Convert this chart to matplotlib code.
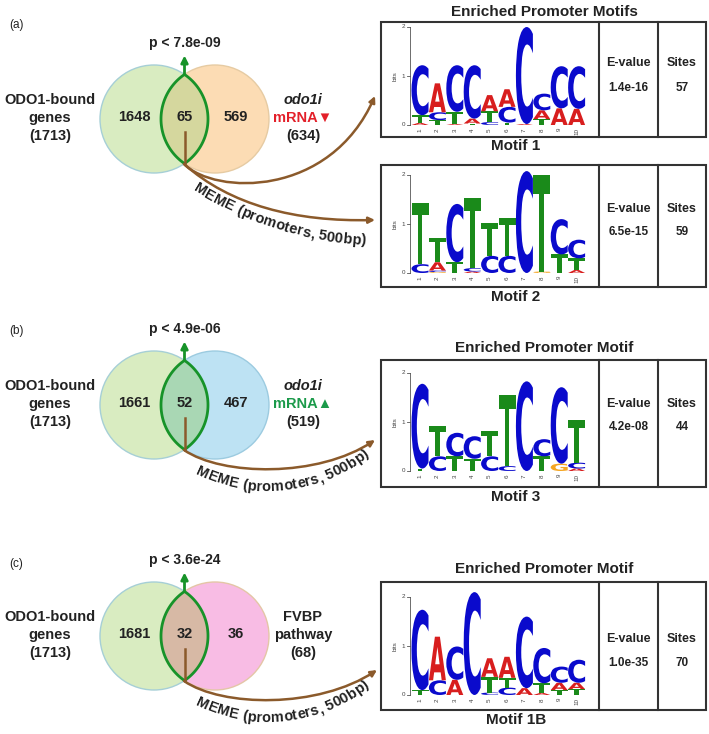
import numpy as np
import matplotlib
matplotlib.use('Agg')
import matplotlib.pyplot as plt
from matplotlib.patches import Circle, Polygon, PathPatch, FancyArrowPatch, Rectangle
from matplotlib.path import Path
from matplotlib.textpath import TextPath
from matplotlib.transforms import Affine2D
from matplotlib.font_manager import FontProperties, findfont, get_font

plt.rcParams['font.family'] = ['Liberation Sans', 'DejaVu Sans']

# venn counts
left_only = [1648, 1661, 1681]
overlap = [65, 52, 32]
right_only = [569, 467, 36]
left_total = [1713, 1713, 1713]
right_total = [634, 519, 68]
p_values = ['7.8e-09', '4.9e-06', '3.6e-24']
panel_tags = ['(a)', '(b)', '(c)']

# motif tables
motif_names = ['Motif 1', 'Motif 2', 'Motif 3', 'Motif 1B']
evalues = ['1.4e-16', '6.5e-15', '4.2e-08', '1.0e-35']
sites = [57, 59, 44, 70]
titles = ['Enriched Promoter Motifs', 'Enriched Promoter Motif', 'Enriched Promoter Motif']

# logo columns, letters bottom -> top, heights in bits
motif1 = [
    [('A', 0.04), ('T', 0.16), ('C', 1.02)],
    [('T', 0.10), ('C', 0.16), ('A', 0.59)],
    [('A', 0.02), ('T', 0.25), ('C', 0.95)],
    [('T', 0.03), ('A', 0.10), ('C', 1.09)],
    [('C', 0.06), ('T', 0.22), ('A', 0.33)],
    [('T', 0.05), ('C', 0.32), ('A', 0.36)],
    [('A', 0.02), ('C', 1.98)],
    [('T', 0.12), ('A', 0.18), ('C', 0.34)],
    [('A', 0.34), ('C', 0.86)],
    [('A', 0.33), ('C', 0.87)],
]
motif2 = [
    [('C', 0.18), ('T', 1.24)],
    [('G', 0.02), ('C', 0.03), ('A', 0.17), ('T', 0.50)],
    [('T', 0.22), ('C', 1.19)],
    [('A', 0.03), ('C', 0.07), ('T', 1.44)],
    [('C', 0.35), ('T', 0.68)],
    [('C', 0.35), ('T', 0.78)],
    [('C', 2.08)],
    [('G', 0.03), ('T', 1.97)],
    [('T', 0.38), ('C', 0.72)],
    [('A', 0.06), ('T', 0.24), ('C', 0.38)],
]
motif3 = [
    [('T', 0.05), ('C', 1.73)],
    [('C', 0.30), ('T', 0.61)],
    [('T', 0.30), ('C', 0.48)],
    [('T', 0.25), ('C', 0.46)],
    [('C', 0.30), ('T', 0.51)],
    [('C', 0.10), ('T', 1.46)],
    [('C', 1.83)],
    [('T', 0.30), ('C', 0.35)],
    [('G', 0.15), ('C', 1.56)],
    [('A', 0.05), ('C', 0.12), ('T', 0.88)],
]
motif1b = [
    [('T', 0.10), ('C', 1.64)],
    [('C', 0.30), ('A', 0.89)],
    [('A', 0.31), ('C', 0.68)],
    [('C', 2.10)],
    [('C', 0.05), ('T', 0.32), ('A', 0.38)],
    [('C', 0.15), ('T', 0.20), ('A', 0.43)],
    [('A', 0.14), ('C', 1.46)],
    [('A', 0.04), ('T', 0.20), ('C', 0.72)],
    [('T', 0.10), ('A', 0.15), ('C', 0.33)],
    [('T', 0.12), ('A', 0.13), ('C', 0.47)],
]
motifs = [motif1, motif2, motif3, motif1b]

base_col = {'A': '#d81e1e', 'C': '#0a0acc', 'G': '#f5a623', 'T': '#1a8a1a'}
txt = '#222222'
green = '#179329'
brown = '#8b5a2b'

fig = plt.figure(figsize=(7.09, 7.34), dpi=100)
ax = fig.add_axes([0, 0, 1, 1])
ax.set_xlim(0, 709)
ax.set_ylim(734, 0)
ax.axis('off')

bold = FontProperties(family='Liberation Sans', weight='bold')
logo_font = FontProperties(family='DejaVu Sans', weight='bold')


def char_advances(s, size):
    font = get_font(findfont(bold))
    font.set_size(size, 100)
    return [font.load_char(ord(ch)).linearHoriAdvance / 65536 for ch in s]


def curved_text(s, cx, cy, R, theta_mid, size):
    adv = char_advances(s, size)
    total = sum(adv)
    pos = np.cumsum([0] + adv[:-1]) + np.array(adv) / 2 - total / 2
    for ch, o in zip(s, pos):
        th = np.radians(theta_mid) + o / R
        x = cx + (R + 4) * np.sin(th)
        y = cy + (R + 4) * np.cos(th)
        ax.text(x, y, ch, rotation=np.degrees(th), rotation_mode='anchor',
                ha='center', va='baseline', fontsize=size, fontweight='bold', color=txt)


def letter(ch, xc, ybot, w, h, color):
    tp = TextPath((0, 0), ch, size=1, prop=logo_font)
    bb = tp.get_extents()
    tr = Affine2D().translate(-bb.x0, -bb.y0).scale(w / bb.width, -h / bb.height).translate(xc - w / 2, ybot)
    ax.add_patch(PathPatch(tr.transform_path(tp), fc=color, ec='none', zorder=3))


# ---- venn panels ----
venn_cy = [119, 405, 636]
right_fill = ['#fcdcb4', '#bde2f3', '#f8bce4']
right_edge = ['#e6cba3', '#9ccbe0', '#e4c6a6']
lens_fill = ['#d5d79e', '#a9d7b4', '#d7b9a5']
right_lines = [('odo1i', 'mRNA\u25bc', '#e3202a'), ('odo1i', 'mRNA\u25b2', '#1b9a4a'), ('FVBP', 'pathway', txt)]
tag_y = [25, 331, 564]
x1, x2, r = 154, 215, 54

for i, cy in enumerate(venn_cy):
    ax.add_patch(Circle((x1, cy), r, fc='#d9ecc1', ec='#a6cfd6', lw=1, zorder=1))
    ax.add_patch(Circle((x2, cy), r, fc=right_fill[i], ec=right_edge[i], lw=1, zorder=1))
    a = np.arccos((x2 - x1) / 2 / r)
    t1 = np.linspace(-a, a, 60)
    t2 = np.linspace(np.pi - a, np.pi + a, 60)
    lens = np.vstack([np.c_[x1 + r * np.cos(t1), cy + r * np.sin(t1)],
                      np.c_[x2 + r * np.cos(t2), cy + r * np.sin(t2)]])
    ax.add_patch(Polygon(lens, closed=True, fc=lens_fill[i], ec=green, lw=2, zorder=2))
    mid = (x1 + x2) / 2
    top = cy - r * np.sin(a)
    bot = cy + r * np.sin(a)

    ax.text(mid - 50, cy - 2, str(left_only[i]), ha='center', va='center', fontsize=10.5, fontweight='bold', color=txt, zorder=4)
    ax.text(mid, cy - 2, str(overlap[i]), ha='center', va='center', fontsize=10.5, fontweight='bold', color=txt, zorder=4)
    ax.text(mid + 51, cy - 2, str(right_only[i]), ha='center', va='center', fontsize=10.5, fontweight='bold', color=txt, zorder=4)

    ax.text(50, cy - 19, 'ODO1-bound', ha='center', va='center', fontsize=10.5, fontweight='bold', color=txt)
    ax.text(50, cy - 1, 'genes', ha='center', va='center', fontsize=10.5, fontweight='bold', color=txt)
    ax.text(50, cy + 17, '(%d)' % left_total[i], ha='center', va='center', fontsize=10.5, fontweight='bold', color=txt)
    l1, l2, c2 = right_lines[i]
    ax.text(303, cy - 19, l1, ha='center', va='center', fontsize=10.5, fontweight='bold', color=txt,
            style='italic' if i < 2 else 'normal')
    ax.text(303, cy - 1, l2, ha='center', va='center', fontsize=10.5, fontweight='bold', color=c2)
    ax.text(303, cy + 17, '(%d)' % right_total[i], ha='center', va='center', fontsize=10.5, fontweight='bold', color=txt)

    ax.text(16, tag_y[i], panel_tags[i], ha='center', va='center', fontsize=8.5, color=txt)
    ax.text(mid, top - 31, 'p < ' + p_values[i], ha='center', va='center', fontsize=10, fontweight='bold', color=txt)
    ax.add_patch(FancyArrowPatch((mid, top), (mid, top - 19), arrowstyle='-|>', mutation_scale=10,
                                 color=green, lw=2, shrinkA=0, shrinkB=0, zorder=5))
    ax.plot([mid, mid], [cy + 13, bot], color=brown, lw=1.8, zorder=5)

# brown curved arrows
curves = [
    [(184, 164), (215, 195), (330, 198), (375, 96)],
    [(184, 164), (230, 205), (295, 222), (375, 220)],
    [(184, 450), (222, 476), (318, 478), (375, 440)],
    [(184, 681), (222, 707), (318, 709), (377, 670)],
]
for vs in curves:
    p = Path(vs, [Path.MOVETO, Path.CURVE4, Path.CURVE4, Path.CURVE4])
    ax.add_patch(FancyArrowPatch(path=p, arrowstyle='-|>', mutation_scale=9, color=brown, lw=1.8, zorder=5))

meme = 'MEME (promoters, 500bp)'
curved_text(meme, 382, -110, 351, -17.5, 10.5)
curved_text(meme, 268, 330, 157, 6, 10.5)
curved_text(meme, 268, 561, 157, 6, 10.5)

# ---- motif boxes ----
boxes = [(381, 22, 137), (381, 165, 287), (381, 360, 487), (381, 582, 710)]
zero_y = [125, 273, 471, 695]
ev_y = [(63, 88), (209, 232), (404, 427), (639, 663)]
label_y = [146, 297, 497, 720]
title_y = [12, 348, 569]
right_x, div1, div2 = 706, 599, 658
bit_px = 49
col_x0, col_step, col_w = 420, 17.4, 17
axis_x = 410

for k, (left, top, bottom) in enumerate(boxes):
    ax.add_patch(Rectangle((left, top), right_x - left, bottom - top, fc='none', ec='#333333', lw=1.5, zorder=2))
    ax.plot([div1, div1], [top, bottom], color='#333333', lw=1.5)
    ax.plot([div2, div2], [top, bottom], color='#333333', lw=1.5)
    ax.text((div1 + div2) / 2, ev_y[k][0], 'E-value', ha='center', va='center', fontsize=9, fontweight='bold', color=txt)
    ax.text((div1 + div2) / 2, ev_y[k][1], evalues[k], ha='center', va='center', fontsize=8.5, fontweight='bold', color=txt)
    ax.text((div2 + right_x) / 2, ev_y[k][0], 'Sites', ha='center', va='center', fontsize=9, fontweight='bold', color=txt)
    ax.text((div2 + right_x) / 2, ev_y[k][1], str(sites[k]), ha='center', va='center', fontsize=8.5, fontweight='bold', color=txt)
    ax.text(516, label_y[k], motif_names[k], ha='center', va='center', fontsize=11, fontweight='bold', color=txt)

    y0 = zero_y[k]
    ax.plot([axis_x, axis_x], [y0, y0 - 2 * bit_px], color='#555555', lw=0.6)
    for b in range(3):
        yy = y0 - b * bit_px
        ax.plot([axis_x - 3, axis_x], [yy, yy], color='#555555', lw=0.6)
        ax.text(axis_x - 5, yy, str(b), ha='right', va='center', fontsize=4.5, color='#444444')
    ax.text(axis_x - 15, y0 - bit_px, 'bits', ha='center', va='center', fontsize=4.5, rotation=90, color='#444444')

    for j, col in enumerate(motifs[k]):
        xc = col_x0 + j * col_step
        yb = y0
        for ch, h in col:
            hp = h * bit_px
            if hp > 0.4:
                letter(ch, xc, yb, col_w, hp, base_col[ch])
            yb -= hp
        ax.text(xc, y0 + 3, str(j + 1), ha='center', va='top', fontsize=4.5, rotation=90, color='#444444')

for t, ty in zip(titles, title_y):
    ax.text(544, ty, t, ha='center', va='center', fontsize=11, fontweight='bold', color=txt)

fig.savefig('out.png', dpi=100)
